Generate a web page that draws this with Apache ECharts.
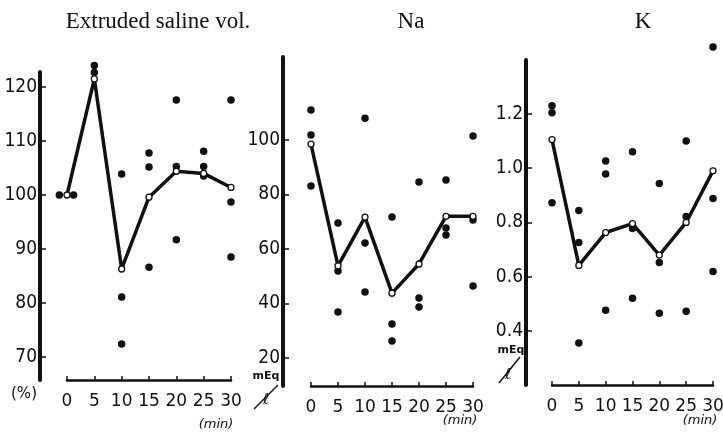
<!DOCTYPE html>
<html>
<head>
<meta charset="utf-8">
<script src="https://cdn.jsdelivr.net/npm/echarts@6/dist/echarts.min.js"></script>
<style>
  html, body { margin: 0; padding: 0; background: #fff; }
  #chart { width: 723px; height: 433px; }
</style>
</head>
<body>
<div id="chart"></div>
<script>
// Sampling times (min)
const minutes = [0, 5, 10, 15, 20, 25, 30];
const minuteTicks = ['0', '5', '10', '15', '20', '25', '30'];

// Extruded saline volume (%): mean curve and individual measurements [min, value]
const salineMean = [100, 121.5, 86.3, 99.6, 104.4, 104.0, 101.4];
const salineDots = [
  [-1.4, 100], [1.2, 100],
  [5, 124.0], [5, 122.7],
  [10, 103.9], [10, 81.1], [10, 72.4],
  [15, 107.8], [15, 105.2], [15, 86.6],
  [20, 117.6], [20, 105.3], [20, 91.7],
  [25, 108.1], [25, 105.3], [25, 103.5],
  [30, 117.6], [30, 98.7], [30, 88.5]
];
const salineTicks = [70, 80, 90, 100, 110, 120];

// Na (mEq/l)
const naMean = [98.5, 53.8, 71.7, 43.8, 54.5, 72.0, 72.0];
const naDots = [
  [0, 111.0], [0, 101.8], [0, 83.1],
  [5, 69.5], [5, 51.9], [5, 36.9],
  [10, 108.0], [10, 62.2], [10, 44.2],
  [15, 71.7], [15, 32.5], [15, 26.2],
  [20, 84.6], [20, 42.0], [20, 38.7],
  [25, 85.3], [25, 67.7], [25, 65.1],
  [30, 101.5], [30, 70.6], [30, 46.4]
];
const naTicks = [20, 40, 60, 80, 100];

// K (mEq/l)
const kMean = [1.105, 0.642, 0.763, 0.796, 0.680, 0.800, 0.990];
const kDots = [
  [0, 1.230], [0, 1.204], [0, 0.873],
  [5, 0.844], [5, 0.726], [5, 0.356],
  [10, 1.026], [10, 0.978], [10, 0.477],
  [15, 1.060], [15, 0.778], [15, 0.521],
  [20, 0.943], [20, 0.653], [20, 0.466],
  [25, 1.100], [25, 0.822], [25, 0.473],
  [30, 1.446], [30, 0.888], [30, 0.620]
];
const kTicks = [0.4, 0.6, 0.8, 1.0, 1.2];

const INK = '#111';
const numFont = '"Liberation Sans Narrow", "DejaVu Sans Condensed", sans-serif';

// panel layout: plot box, axis ranges and y-axis offset
const panels = [
  { left: 67,  width: 164, top: 72, height: 308, min: 65.74, max: 122.78, offset: 27, ticks: salineTicks, fmt: v => String(v), mean: salineMean, dots: salineDots },
  { left: 311, width: 162, top: 57, height: 329, min: 9.72,  max: 130.46, offset: 28, ticks: naTicks,     fmt: v => String(v), mean: naMean,     dots: naDots },
  { left: 552, width: 161, top: 60, height: 325, min: 0.2018, max: 1.398, offset: 26, ticks: kTicks,      fmt: v => v.toFixed(1), mean: kMean,  dots: kDots }
];

const grid = [], xAxis = [], yAxis = [], series = [];
panels.forEach((p, i) => {
  grid.push({ left: p.left, top: p.top, width: p.width, height: p.height, outerBoundsMode: 'none' });
  xAxis.push({
    type: 'value', gridIndex: i, min: 0, max: 30, interval: 5,
    axisLine: { onZero: false, lineStyle: { color: INK, width: 2.5 } },
    axisTick: { inside: true, length: 4, lineStyle: { color: INK, width: 1.5 } },
    axisLabel: {
      margin: 13, color: INK, fontSize: 17, fontFamily: '"DejaVu Sans", sans-serif',
      formatter: v => minuteTicks[minutes.indexOf(v)] ?? ''
    },
    splitLine: { show: false }
  });
  yAxis.push({
    type: 'value', gridIndex: i, min: p.min, max: p.max, offset: p.offset,
    axisLine: { show: true, onZero: false, lineStyle: { color: INK, width: 4 } },
    axisTick: { show: true, inside: true, length: 6, customValues: p.ticks, lineStyle: { color: INK, width: 1.5 } },
    axisLabel: { show: true, margin: 3, color: INK, fontSize: 19, fontFamily: numFont, customValues: p.ticks, formatter: p.fmt },
    splitLine: { show: false }
  });
  series.push({
    type: 'line', xAxisIndex: i, yAxisIndex: i, z: 3,
    data: minutes.map((m, k) => [m, p.mean[k]]),
    lineStyle: { color: INK, width: 3.5 },
    symbol: 'circle', symbolSize: 6, showSymbol: true,
    itemStyle: { color: '#fff', borderColor: INK, borderWidth: 1.3, opacity: 1 },
    animation: false, silent: true
  });
  series.push({
    type: 'scatter', xAxisIndex: i, yAxisIndex: i, z: 2, clip: false,
    data: p.dots, symbol: 'circle', symbolSize: 7.5,
    itemStyle: { color: INK, opacity: 1 },
    animation: false, silent: true
  });
});

const serif = '"Liberation Serif", "DejaVu Serif", serif';
const txt = (x, y, text, size, extra) => ({
  type: 'text', x, y, silent: true,
  style: Object.assign({ text, fill: INK, fontSize: size, fontFamily: '"DejaVu Sans", sans-serif', align: 'center', verticalAlign: 'middle' }, extra || {})
});

const graphic = [
  txt(158, 22, 'Extruded saline vol.', 23, { fontFamily: serif }),
  txt(411, 22, 'Na', 23, { fontFamily: serif }),
  txt(643, 22, 'K', 23, { fontFamily: serif }),
  txt(24, 394, '(%)', 15),
  txt(216, 425, '(min)', 13, { fontStyle: 'italic' }),
  txt(460, 421, '(min)', 13, { fontStyle: 'italic' }),
  txt(700, 421, '(min)', 13, { fontStyle: 'italic' }),
  // mEq / l unit marks
  txt(266, 376, 'mEq', 11, { fontWeight: 'bold' }),
  { type: 'line', silent: true, shape: { x1: 254, y1: 409, x2: 278, y2: 385 }, style: { stroke: INK, lineWidth: 1.5 } },
  txt(266, 400, 'ℓ', 15, { fontStyle: 'italic' }),
  txt(511, 350, 'mEq', 11, { fontWeight: 'bold' }),
  { type: 'line', silent: true, shape: { x1: 499, y1: 383, x2: 520, y2: 357 }, style: { stroke: INK, lineWidth: 1.5 } },
  txt(508, 375, 'ℓ', 15, { fontStyle: 'italic' })
];

const chart = echarts.init(document.getElementById('chart'), null, { renderer: 'canvas' });
chart.setOption({
  backgroundColor: '#fff',
  animation: false,
  grid, xAxis, yAxis, series, graphic
});
</script>
</body>
</html>
